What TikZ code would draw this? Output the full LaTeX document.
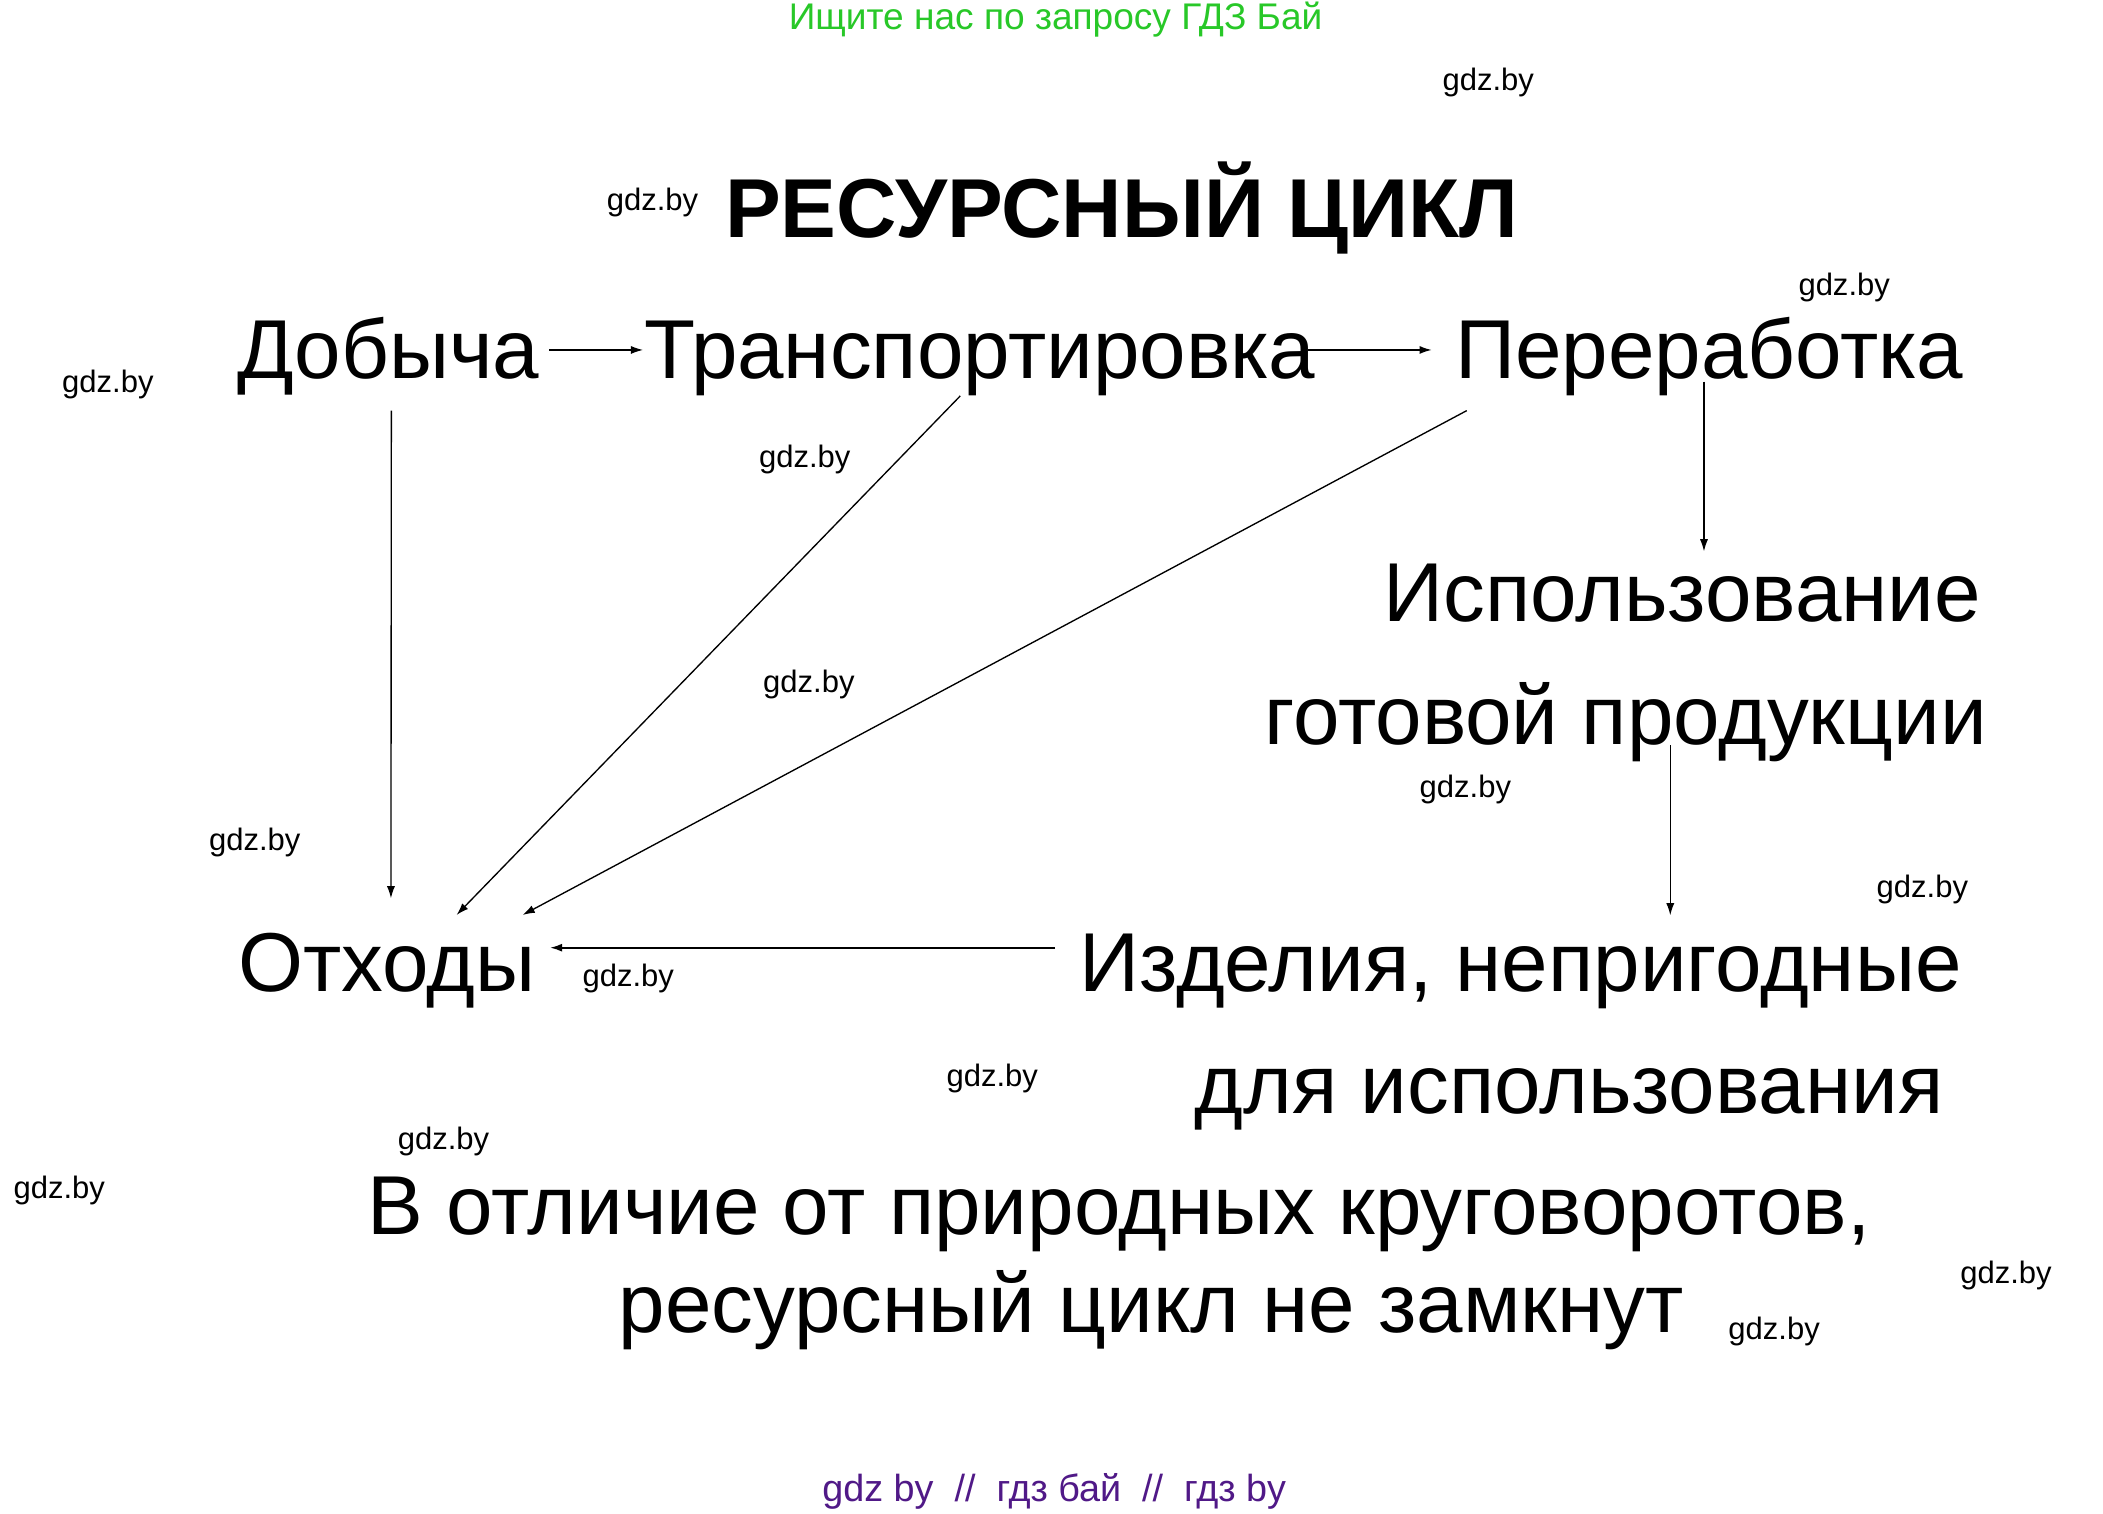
\documentclass[tikz,border=0pt]{standalone}
\usepackage{fontspec}
\setmainfont{Liberation Sans}
\usetikzlibrary{arrows.meta,calc}
\definecolor{wmgreen}{RGB}{40,200,40}
\definecolor{wmpurple}{RGB}{80,25,135}
\begin{document}
\begin{tikzpicture}[x=1pt,y=-1pt,
  lbl/.style={inner sep=0pt,anchor=base,font=\fontsize{62}{70}\selectfont},
  wm/.style={inner sep=0pt,anchor=center,font=\fontsize{23}{26}\selectfont},
  arr/.style={line width=1pt,-{Latex[length=9pt,width=6pt]}}]
\useasboundingbox[fill=white] (0,0) rectangle (1560,1123);
% header / footer
\node[inner sep=0pt,anchor=base,text=wmgreen,font=\fontsize{27.5}{30}\selectfont] (hdr) at (783,21.8) {Ищите нас по запросу ГДЗ Бай};
\node[inner sep=0pt,anchor=base,text=wmpurple,font=\fontsize{28}{30}\selectfont] (ftr) at (782,1114) {gdz by \ // \ гдз бай \ // \ гдз by};
% title
\node[inner sep=0pt,anchor=base,font=\fontsize{62}{68}\selectfont\bfseries] (title) at (832,176) {РЕСУРСНЫЙ ЦИКЛ};
% labels
\node[lbl] (dob) at (288,281) {Добыча};
\node[lbl] (trans) at (727,281) {Транспортировка};
\node[lbl] (pere) at (1268,281) {Переработка};
\node[lbl] (isp1) at (1248,461) {Использование};
\node[lbl] (isp2) at (1206,552.6) {готовой продукции};
\node[lbl] (otx) at (287,735.6) {Отходы};
\node[lbl] (izd1) at (1128,735.6) {Изделия, непригодные};
\node[lbl] (izd2) at (1164,825.8) {для использования};
\node[lbl] (note1) at (830,915.4) {В отличие от природных круговоротов,};
\node[lbl] (note2) at (854,988.5) {ресурсный цикл не замкнут};
% arrows
\draw[arr] ($(dob.base)+(119.6,-21.4)$) -- ($(trans.base)+(-250,-21.4)$);
\draw[arr] ($(trans.base)+(243,-21.4)$) -- ($(pere.base)+(-206,-21.4)$);
\draw[arr] ($(pere.base)+(-4,2)$) -- ($(isp1.base)+(16,-52)$);
\draw[arr] ($(isp2.base)+(33,0.4)$) -- ($(izd1.base)+(111,-56.6)$);
\draw[arr] ($(dob.base)+(2.3,23.6)$) -- ($(otx.base)+(3,-69.2)$);
\draw[arr] ($(trans.base)+(-14.7,12.7)$) -- ($(otx.base)+(51.7,-56.9)$);
\draw[arr] ($(pere.base)+(-180,23.6)$) -- ($(otx.base)+(100.7,-56.9)$);
\draw[arr,line width=1.4pt] ($(izd1.base)+(-345.4,-32.6)$) -- ($(otx.base)+(121,-32.6)$);
% watermarks
\node[wm] (w1) at (1104,61) {gdz.by};
\node[wm] (w2) at (484,150) {gdz.by};
\node[wm] (w3) at (1368,213) {gdz.by};
\node[wm] (w4) at (80,285) {gdz.by};
\node[wm] (w5) at (597,341) {gdz.by};
\node[wm] (w6) at (600,508) {gdz.by};
\node[wm] (w7) at (1087,586) {gdz.by};
\node[wm] (w8) at (189,625) {gdz.by};
\node[wm] (w9) at (1426,660) {gdz.by};
\node[wm] (w10) at (466,726) {gdz.by};
\node[wm] (w11) at (736,800) {gdz.by};
\node[wm] (w12) at (329,847) {gdz.by};
\node[wm] (w13) at (44,883) {gdz.by};
\node[wm] (w14) at (1488,946) {gdz.by};
\node[wm] (w15) at (1316,988) {gdz.by};
\end{tikzpicture}
\end{document}
